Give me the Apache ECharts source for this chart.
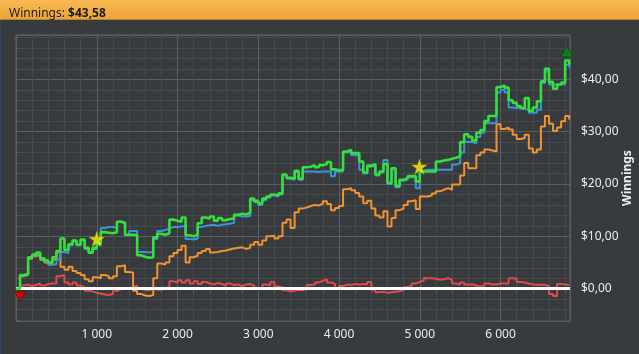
<!DOCTYPE html>
<html>
<head>
<meta charset="utf-8">
<script src="https://cdn.jsdelivr.net/npm/echarts@6/dist/echarts.min.js"></script>
<style>
html,body{margin:0;padding:0;background:#383b3e;}
#c{width:639px;height:354px;}
</style>
</head>
<body>
<div id="c"></div>
<script>
// x positions (hands played)
const steps = [
 0,50,100,150,200,250,300,350,400,450,
 500,550,600,650,700,750,800,850,900,950,
 1000,1050,1100,1150,1200,1250,1300,1350,1400,1450,
 1500,1550,1600,1650,1700,1750,1800,1850,1900,1950,
 2000,2050,2100,2150,2200,2250,2300,2350,2400,2450,
 2500,2550,2600,2650,2700,2750,2800,2850,2900,2950,
 3000,3050,3100,3150,3200,3250,3300,3350,3400,3450,
 3500,3550,3600,3650,3700,3750,3800,3850,3900,3950,
 4000,4050,4100,4150,4200,4250,4300,4350,4400,4450,
 4500,4550,4600,4650,4700,4750,4800,4850,4900,4950,
 5000,5050,5100,5150,5200,5250,5300,5350,5400,5450,
 5500,5550,5600,5650,5700,5750,5800,5850,5900,5950,
 6000,6050,6100,6150,6200,6250,6300,6350,6400,6450,
 6500,6550,6600,6650,6700,6750,6800,6850];

const greenLine = [
 0,2.6,2.8,6.0,6.5,6.9,5.8,5.4,5.0,6.0,
 7.2,9.6,7.4,8.5,9.2,8.4,9.4,7.8,6.9,7.8,
 8.6,10.8,10.7,10.6,10.8,12.8,12.6,10.3,10.3,10.2,
 6.4,6.1,5.9,6.0,9.8,10.5,10.3,10.6,13.2,13.0,
 12.8,13.6,10.2,10.0,10.3,12.5,13.6,13.4,13.8,13.0,
 13.5,13.1,13.3,13.4,14.1,14.3,14.2,14.5,17.2,16.8,
 16.3,17.2,17.6,18.0,17.8,18.2,21.8,21.2,21.0,22.5,
 21.0,23.2,23.3,23.6,23.2,23.6,23.8,24.2,22.8,22.6,
 22.7,26.2,26.5,25.9,25.9,24.3,22.2,23.5,23.8,21.8,
 22.4,23.8,20.2,23.0,19.6,20.8,21.1,21.5,21.5,20.5,
 22.4,22.4,22.4,22.4,24.3,24.5,24.6,24.8,25.0,25.3,
 28.0,29.5,29.0,28.3,29.8,30.3,32.0,33.0,33.0,38.5,
 38.8,38.4,36.0,35.5,34.9,34.5,36.4,34.0,34.6,35.8,
 39.6,42.0,39.5,38.2,39.0,39.4,43.6,42.8];

const blueLine = [
 0,2.5,2.7,5.9,6.3,6.7,5.6,5.2,4.6,4.6,
 5.6,7.0,6.8,8.3,9.0,8.3,9.2,7.6,6.8,7.6,
 8.4,11.6,11.8,11.8,11.6,12.8,12.5,10.2,11.0,11.0,
 7.0,7.0,6.9,7.0,9.5,11.0,11.2,11.5,11.8,11.8,
 11.9,12.0,9.5,9.4,9.6,11.8,12.0,12.1,12.2,12.0,
 12.2,12.3,12.4,12.6,14.0,13.8,13.8,13.9,16.9,16.5,
 16.0,16.9,17.4,17.8,17.6,18.0,21.6,21.0,20.8,22.3,
 20.8,22.4,22.4,22.4,22.3,22.4,22.4,22.4,21.5,22.4,
 22.4,26.0,26.1,25.5,25.5,22.7,22.0,23.3,23.6,21.6,
 22.2,24.6,20.0,22.8,19.4,20.6,20.9,21.3,21.3,19.2,
 22.6,22.7,22.7,22.7,22.7,22.7,22.7,22.7,23.7,24.0,
 26.0,28.0,28.0,27.8,29.0,29.8,31.6,31.6,31.6,37.5,
 38.0,37.5,34.6,34.5,34.5,34.4,34.2,33.6,33.6,34.2,
 39.3,41.5,39.0,39.0,39.0,39.0,42.8,42.2];

const orangeLine = [
 0,2.4,2.6,5.7,6.2,6.5,5.5,5.0,4.6,5.6,
 7.0,4.2,3.6,4.2,3.4,3.0,2.6,1.8,1.4,2.2,
 2.0,2.6,2.4,2.0,2.4,4.3,4.5,3.2,3.1,-0.4,
 -1.0,-1.3,-1.4,-1.2,2.0,4.8,4.6,5.0,6.2,6.8,
 7.4,8.2,5.0,6.0,6.3,6.8,7.2,7.6,6.9,7.0,
 7.2,7.3,7.5,7.7,7.8,7.9,7.6,7.8,8.4,8.9,
 8.4,9.2,10.0,10.1,9.6,10.0,12.6,13.2,11.6,14.6,
 15.3,15.5,15.8,16.0,15.9,16.2,16.7,16.2,15.0,15.4,
 15.8,19.0,19.2,18.8,18.3,17.6,16.3,16.8,15.3,14.0,
 13.6,14.8,11.9,13.5,15.0,15.3,16.0,16.7,16.9,15.2,
 17.6,17.6,17.8,18.2,18.6,18.9,19.2,18.9,19.9,19.9,
 21.6,24.0,23.0,23.0,25.5,26.0,26.6,26.4,26.2,31.4,
 30.5,30.8,30.4,29.4,28.6,28.8,29.4,26.8,26.0,26.6,
 31.0,33.0,31.5,30.1,30.8,32.0,33.0,32.3];

const redLine = [
 0,0.6,0.8,0.5,0.7,1.0,0.6,0.9,1.0,1.0,
 2.4,2.6,1.2,0.8,1.2,0.6,0.3,-0.4,-0.5,-0.8,
 -0.9,-1.1,-1.2,-1.0,-0.4,-0.1,0.1,0.1,0.3,0.6,
 0.0,-0.2,-0.3,0.0,0.2,-0.2,0.1,0.4,1.4,1.2,
 1.6,1.2,1.6,1.0,1.4,0.9,1.3,1.0,0.8,1.1,
 0.9,0.6,1.0,0.7,0.8,0.5,0.8,0.9,0.6,0.2,
 0.0,0.8,0.7,1.3,0.4,0.3,-0.3,-0.5,-0.4,-0.2,
 -0.3,0.0,0.7,0.8,1.2,1.5,1.8,1.2,0.9,0.0,
 0.5,0.8,0.7,0.9,0.8,0.9,0.8,1.3,-0.2,-0.7,
 -0.6,-0.8,-0.7,-0.6,-0.5,-0.2,0.3,0.6,1.0,1.3,
 1.6,2.0,2.0,1.9,1.7,1.8,2.0,1.7,1.0,0.8,
 1.2,0.8,0.8,0.6,0.4,0.6,1.0,0.8,0.8,1.0,
 1.0,1.0,2.0,1.9,1.3,1.2,1.0,0.8,0.7,0.8,
 0.7,0.5,-1.0,-1.4,0.9,0.8,0.7,0.8];

// star markers
const starX = [1000, 4995];
const starY = [9.5, 23.3];
// start / end markers
const startMark = [50, -1.5];
const endMark = [6820, 45.3];

const headerLabel = 'Winnings: ';
const headerValue = '$43,58';
const yAxisTitle = 'Winnings';

const xMin = 0, xMax = 6860;
const yMin = -6.17, yMax = 48.46;

const pairs = arr => steps.map((x, i) => [x, arr[i]]);
const starPath = 'path://M50,0 L61.2,35.1 L98,35.1 L68.2,56.8 L79.4,91.6 L50,70 L20.6,91.6 L31.8,56.8 L2,35.1 L38.8,35.1 Z';

const labelColor = '#e4edf5';
const majorGrid = '#5a5e62';
const minorGrid = '#46494d';

const chart = echarts.init(document.getElementById('c'), null, {renderer: 'canvas'});
chart.setOption({
  animation: false,
  backgroundColor: '#383b3e',
  title: {
    text: '{a|' + headerLabel + '}{b|' + headerValue + '}',
    left: 4, top: 3,
    textStyle: {
      fontWeight: 'normal',
      rich: {
        a: {fontFamily: 'Noto Sans', fontSize: 12, fontWeight: 'normal', color: '#1b1b1b'},
        b: {fontFamily: 'Noto Sans', fontSize: 12, fontWeight: 'bold', color: '#1b1b1b'}
      }
    },
    z: 10
  },
  graphic: [
    {type: 'rect', left: 0, top: 0, z: 0, shape: {width: 639, height: 19},
     style: {fill: new echarts.graphic.LinearGradient(0, 0, 0, 1, [
       {offset: 0, color: '#f8b852'}, {offset: 1, color: '#eda437'}])}},
    {type: 'rect', left: 0, top: 19, z: 0, shape: {width: 639, height: 1},
     style: {fill: '#b98431'}},
    {type: 'rect', left: 0, top: 20, z: 0, shape: {width: 1, height: 334},
     style: {fill: '#27496f'}}
  ],
  grid: {left: 16, right: 69, top: 35, bottom: 33, show: true, outerBoundsMode: 'none',
         containLabel: false,
         borderColor: '#606468', borderWidth: 1, backgroundColor: 'transparent'},
  xAxis: {
    type: 'value', min: xMin, max: xMax, splitNumber: 6,
    axisLine: {show: false},
    axisTick: {show: true, length: 4, lineStyle: {color: majorGrid}},
    minorTick: {show: true, splitNumber: 5, length: 4, lineStyle: {color: majorGrid}},
    splitLine: {show: true, lineStyle: {color: majorGrid, width: 1}},
    minorSplitLine: {show: true, lineStyle: {color: minorGrid, width: 1}},
    axisLabel: {
      color: labelColor, fontFamily: 'Noto Sans', fontSize: 12, margin: 8,
      formatter: v => (v > 0 && v % 1000 === 0) ? String(v).replace(/\B(?=(\d{3})+(?!\d))/g, ' ') : ''
    }
  },
  yAxis: {
    type: 'value', position: 'right', min: yMin, max: yMax, splitNumber: 5,
    name: yAxisTitle, nameLocation: 'middle', nameRotate: 90, nameGap: 52, nameMoveOverlap: false,
    nameTextStyle: {color: labelColor, fontFamily: 'Noto Sans', fontSize: 12, fontWeight: 'bold'},
    axisLine: {show: false},
    axisTick: {show: true, length: 3, lineStyle: {color: majorGrid}},
    minorTick: {show: true, splitNumber: 5, length: 3, lineStyle: {color: majorGrid}},
    splitLine: {show: true, lineStyle: {color: majorGrid, width: 1}},
    minorSplitLine: {show: true, lineStyle: {color: minorGrid, width: 1}},
    axisLabel: {
      color: labelColor, fontFamily: 'Noto Sans', fontSize: 12, margin: 11,
      formatter: v => (Math.abs(v % 10) < 1e-9) ? '$' + v.toFixed(2).replace('.', ',') : ''
    }
  },
  series: [
    {type: 'line', name: 'red', data: pairs(redLine), showSymbol: false, symbol: 'none', step: 'end',
     lineStyle: {color: '#e04a4a', width: 2}, z: 2},
    {type: 'line', name: 'orange', data: pairs(orangeLine), showSymbol: false, symbol: 'none', step: 'end',
     lineStyle: {color: '#f39231', width: 2}, z: 2},
    {type: 'line', name: 'zero', data: [], showSymbol: false, z: 3,
     markLine: {silent: true, symbol: ['none', 'none'], label: {show: false},
       lineStyle: {color: '#ffffff', width: 3, type: 'solid'},
       data: [{yAxis: 0}]}},
    {type: 'line', name: 'blue', data: pairs(blueLine), showSymbol: false, symbol: 'none', step: 'end',
     lineStyle: {color: '#3d92dc', width: 2}, z: 4},
    {type: 'line', name: 'green', data: pairs(greenLine), showSymbol: false, symbol: 'none', step: 'end',
     lineStyle: {color: '#34e03c', width: 2.6}, z: 5},
    {type: 'scatter', name: 'stars', data: starX.map((x, i) => [x, starY[i]]),
     symbol: starPath, symbolSize: 15,
     itemStyle: {color: '#fff200', borderColor: '#d8b800', borderWidth: 0.5}, z: 6},
    {type: 'scatter', name: 'start', data: [startMark], symbol: 'triangle', symbolRotate: 180,
     symbolSize: [11, 10], itemStyle: {color: '#e80000', borderColor: '#8a0000', borderWidth: 1}, z: 6},
    {type: 'scatter', name: 'end', data: [endMark], symbol: 'triangle',
     symbolSize: [12, 11], itemStyle: {color: '#0b8a12', borderColor: '#064d09', borderWidth: 1}, z: 6}
  ]
});
</script>
</body>
</html>
